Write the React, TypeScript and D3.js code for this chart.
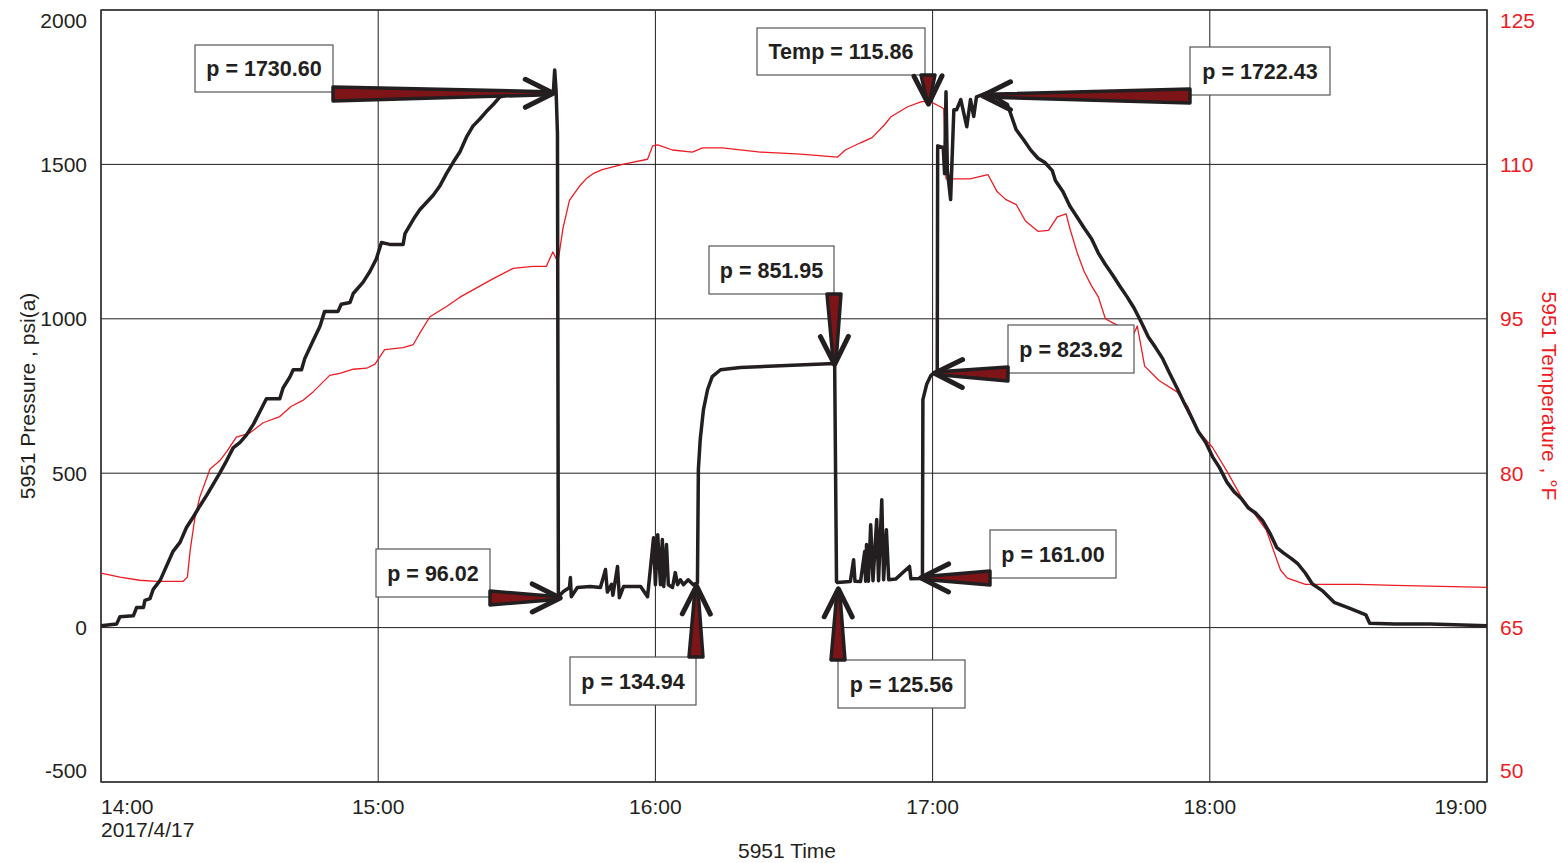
import React from "react";
import * as d3 from "d3";

// minutes after 14:00 on 2017/4/17, value
const pressure: [number, number][] = [
  [0, 6], [3.4, 12], [4.1, 35], [7, 38], [7.7, 65], [9.2, 65], [9.5, 88], [10.6, 94],
  [11.3, 124], [12.8, 153], [14.2, 200], [15.6, 247], [17.1, 276], [18.5, 324], [20, 359],
  [21.4, 394], [22.9, 429], [24.3, 465], [25.7, 500], [27.2, 541], [28.6, 582], [30.1, 600],
  [31.5, 624], [33, 659], [34.4, 700], [35.8, 741], [38.7, 741], [39.4, 776], [40.9, 812],
  [41.6, 835], [43.4, 835], [44.1, 871], [45.9, 929], [47.4, 976], [48.4, 1024], [51.3, 1024],
  [52, 1047], [53.9, 1053], [54.6, 1082], [56.7, 1118], [58.2, 1153], [59.6, 1194],
  [60.7, 1247], [62.5, 1241], [65.4, 1241], [65.8, 1276], [67.9, 1329], [69, 1353],
  [71.9, 1400], [73.3, 1429], [74.8, 1471], [76.2, 1506], [77.7, 1541], [79.1, 1588],
  [80.5, 1624], [82, 1647], [83.4, 1671], [84.9, 1694], [86.3, 1718], [87.7, 1724],
  [96.4, 1729], [97.9, 1731], [98.2, 1806], [98.5, 1740], [98.8, 1600], [99, 100],
  [100.1, 117], [101.4, 130], [101.6, 162], [101.8, 100], [103.1, 130], [105.9, 133],
  [108.1, 130], [109.2, 188], [109.6, 115], [110.5, 140], [110.8, 105], [111.8, 198],
  [112.2, 97], [113.1, 133], [116.8, 133], [118.3, 100], [118.9, 188], [119.6, 291],
  [120, 139], [120.5, 301], [121.1, 139], [121.5, 285], [121.8, 133], [122.4, 269],
  [122.8, 139], [123.7, 130], [124.3, 178], [124.8, 139], [125.4, 155], [126.1, 139],
  [127.1, 155], [128.2, 139], [129.1, 145], [129.3, 512], [129.7, 609], [130.4, 706],
  [131.3, 771], [132.3, 813], [134.1, 835], [138.4, 842], [147.1, 848], [158.8, 855],
  [159.2, 149], [159.4, 146], [162.2, 149], [162.9, 220], [163.2, 150], [164.4, 149],
  [165.3, 246], [165.5, 150], [165.7, 269], [166.1, 150], [166.6, 333], [167.1, 152],
  [167.9, 350], [168.3, 152], [169, 414], [169.4, 155], [170, 317], [170.5, 155],
  [172, 157], [175, 198], [175.3, 158], [177.4, 159], [177.8, 161], [177.9, 738],
  [178.7, 787], [179.6, 816], [180.4, 826], [181, 830], [181.1, 1560], [182.3, 1555],
  [182.6, 1470], [182.9, 1735], [183.2, 1480], [183.9, 1386], [184.6, 1677], [185.2, 1677],
  [186.1, 1710], [187.4, 1622], [188.2, 1710], [188.9, 1655], [189.5, 1719], [191.9, 1732],
  [196.2, 1694], [198.1, 1612], [199.7, 1580], [201.2, 1547], [202.8, 1520], [204.3, 1506],
  [205.9, 1480], [206.6, 1447], [208.2, 1412], [209.7, 1365], [211.3, 1329], [212.8, 1294],
  [214.4, 1259], [215.9, 1212], [217.4, 1176], [219, 1141], [220.5, 1106], [222.1, 1071],
  [223.6, 1035], [225.2, 988], [226.7, 941], [228.3, 906], [229.8, 871], [231.3, 824],
  [232.9, 776], [234.4, 729], [236, 682], [237.5, 635], [239.1, 600], [240.6, 553],
  [242.1, 518], [243.7, 471], [245.2, 441], [246.8, 418], [248.3, 388], [249.9, 371],
  [251.4, 347], [253, 306], [254.5, 259], [256, 241], [257.6, 224], [259.1, 206],
  [260.7, 176], [262.2, 141], [264.5, 118], [266.9, 82], [269.9, 65], [273.8, 41],
  [274.6, 14], [280, 12], [287.7, 12], [300, 6],
];

const temperature: [number, number][] = [
  [0, 70.3], [4.1, 69.9], [8.4, 69.6], [12, 69.5], [17.8, 69.5], [18.7, 69.9], [19.3, 72.5],
  [20.3, 75.6], [21.4, 77.7], [23.6, 80.4], [25.7, 81.2], [27.2, 82.1], [29.3, 83.5],
  [32.2, 83.9], [35.1, 84.9], [38.7, 85.5], [41.2, 86.5], [43.8, 87.1], [45.9, 87.9],
  [49.5, 89.5], [51.7, 89.7], [54.6, 90.1], [57.5, 90.2], [59.3, 90.6], [61.4, 92],
  [65.4, 92.2], [67.6, 92.5], [69, 93.6], [71.2, 95.2], [74.8, 96.2], [77.7, 97.1],
  [81.3, 98], [84.9, 98.9], [89.2, 99.9], [93.5, 100.1], [96.4, 100.1], [97.8, 101.5],
  [98.9, 100.5], [100, 103.8], [101.4, 106.5], [102.5, 107.2], [103.6, 107.9], [105, 108.6],
  [106.5, 109.1], [108.5, 109.5], [112.9, 110], [118.3, 110.5], [119.4, 111.8],
  [120.5, 111.9], [123.7, 111.4], [128, 111.2], [130.2, 111.6], [134.5, 111.6],
  [142.7, 111.2], [151.4, 111], [159.4, 110.7], [161.1, 111.4], [164.4, 112.1],
  [166.9, 112.6], [169.7, 113.9], [170.9, 114.6], [174.6, 115.6], [177.6, 116.1],
  [179.5, 116.1], [181.7, 115.6], [182.4, 115.4], [182.9, 108.6], [188.1, 108.6],
  [192, 109], [193.9, 107.4], [195.8, 106.6], [198.1, 106.1], [200.1, 104.5], [202.8, 103.5],
  [205.1, 103.6], [207, 104.9], [208.9, 105.2], [209.7, 103.8], [211.3, 101.4],
  [212.8, 99.6], [214.4, 98.2], [215.9, 97.1], [217.4, 95], [219, 94.6], [223.6, 93.6],
  [224.3, 94.3], [225.9, 90.4], [229, 89], [232.9, 87.9], [235.2, 86.5], [237.5, 84.1],
  [240.6, 82.5], [243.7, 80.2], [246.8, 77.7], [249.9, 75.9], [252.2, 74.5], [255.3, 70.6],
  [256.8, 69.8], [260.7, 69.2], [272.3, 69.2], [280, 69.1], [300, 68.9],
];

const pressureTicks = [-500, 0, 500, 1000, 1500, 2000];
const tempTicks = [50, 65, 80, 95, 110, 125];

// annotation callouts
const noteLabels = [
  "p = 1730.60", "p = 96.02", "p = 134.94", "p = 851.95", "p = 125.56",
  "Temp = 115.86", "p = 1722.43", "p = 823.92", "p = 161.00",
];
const noteMinutes = [97.9, 99.4, 128.9, 158.8, 159.6, 179.1, 190.8, 180.4, 177.4];
const noteValues = [1730.6, 96.02, 134.94, 851.95, 125.56, 115.86, 1722.43, 823.92, 161.0];
const noteSeries = ["p", "p", "p", "p", "p", "t", "p", "p", "p"];

// box [x, y, w, h] and arrow tail for each callout
const noteLayout = [
  { box: [195, 45, 138, 47], tail: [333, 94] },
  { box: [376, 549, 114, 48], tail: [490, 598] },
  { box: [570, 657, 126, 48], tail: [696, 657] },
  { box: [709, 246, 125, 48], tail: [834, 294] },
  { box: [838, 660, 127, 48], tail: [838, 660] },
  { box: [757, 28, 168, 47], tail: [928, 75] },
  { box: [1190, 47, 140, 48], tail: [1190, 96] },
  { box: [1008, 325, 126, 48], tail: [1008, 374] },
  { box: [990, 530, 126, 48], tail: [990, 578] },
];

const t0 = new Date(2017, 3, 17, 14, 0).getTime();
const toDate = (m: number) => new Date(t0 + m * 60000);

const W = 1562;
const H = 863;
const left = 101;
const right = 1487;
const top = 10;
const bottom = 782;
const dark = "#231f20";
const red = "#ed1c24";
const font = "Arial, 'Liberation Sans', sans-serif";
const fs = 21;

function Arrow({ tail, tip }: { tail: number[]; tip: number[] }) {
  const dx = tip[0] - tail[0];
  const dy = tip[1] - tail[1];
  const len = Math.hypot(dx, dy);
  const ux = dx / len;
  const uy = dy / len;
  const nx = -uy;
  const ny = ux;
  const shaft = [
    [tail[0] + nx * 7, tail[1] + ny * 7],
    [tip[0] - ux * 4 + nx * 1.5, tip[1] - uy * 4 + ny * 1.5],
    [tip[0] - ux * 4 - nx * 1.5, tip[1] - uy * 4 - ny * 1.5],
    [tail[0] - nx * 7, tail[1] - ny * 7],
  ];
  const hb = 28;
  const hs = 14;
  const head = `M${tip[0] - ux * hb + nx * hs},${tip[1] - uy * hb + ny * hs}L${tip[0]},${tip[1]}L${
    tip[0] - ux * hb - nx * hs
  },${tip[1] - uy * hb - ny * hs}`;
  return (
    <g>
      <polygon
        points={shaft.map((p) => p.join(",")).join(" ")}
        fill="#7d1518"
        stroke={dark}
        strokeWidth={3.5}
        strokeLinejoin="round"
      />
      <path d={head} fill="none" stroke={dark} strokeWidth={5} strokeLinecap="round" strokeLinejoin="round" />
    </g>
  );
}

export default function App() {
  const x = d3.scaleTime().domain([toDate(0), toDate(300)]).range([left, right]);
  const yP = d3.scaleLinear().domain([-500, 2000]).range([bottom, top]);
  const yT = d3.scaleLinear().domain([50, 125]).range([bottom, top]);
  const hours = x.ticks(d3.timeHour.every(1)!);
  const fmt = d3.timeFormat("%H:%M");

  const pLine = d3
    .line<[number, number]>()
    .x((d) => x(toDate(d[0])))
    .y((d) => yP(d[1]));
  const tLine = d3
    .line<[number, number]>()
    .x((d) => x(toDate(d[0])))
    .y((d) => yT(d[1]));

  const clampY = (y: number) => Math.max(top + 11, Math.min(bottom - 11, y));

  return (
    <div style={{ position: "absolute", left: 0, top: 0 }}>
      <svg width={W} height={H} style={{ display: "block" }} fontFamily={font}>
        <rect width={W} height={H} fill="#fff" />
        {/* grid */}
        {pressureTicks.map((v) => (
          <line key={"g" + v} x1={left} x2={right} y1={yP(v)} y2={yP(v)} stroke={dark} strokeWidth={1} />
        ))}
        {hours.map((h) => (
          <line key={"v" + h.getTime()} x1={x(h)} x2={x(h)} y1={top} y2={bottom} stroke={dark} strokeWidth={1} />
        ))}
        <rect x={left} y={top} width={right - left} height={bottom - top} fill="none" stroke="#333" strokeWidth={1.5} />

        {/* series */}
        <path d={tLine(temperature) || ""} fill="none" stroke={red} strokeWidth={1.3} strokeLinejoin="round" />
        <path d={pLine(pressure) || ""} fill="none" stroke={dark} strokeWidth={3.5} strokeLinejoin="round" />

        {/* left axis */}
        {pressureTicks.map((v) => (
          <text key={"l" + v} x={87} y={clampY(yP(v))} dy="0.35em" textAnchor="end" fontSize={fs} fill={dark}>
            {v}
          </text>
        ))}
        {/* right axis */}
        {tempTicks.map((v) => (
          <text key={"r" + v} x={1500} y={clampY(yT(v))} dy="0.35em" textAnchor="start" fontSize={fs} fill={red}>
            {v}
          </text>
        ))}
        {/* x axis */}
        {hours.map((h, i) => (
          <text
            key={"x" + h.getTime()}
            x={x(h)}
            y={814}
            textAnchor={i === 0 ? "start" : i === hours.length - 1 ? "end" : "middle"}
            fontSize={fs}
            fill={dark}
          >
            {fmt(h)}
          </text>
        ))}
        <text x={left} y={837} fontSize={fs} fill={dark}>
          2017/4/17
        </text>
        <text x={787} y={858} textAnchor="middle" fontSize={fs} fill={dark}>
          5951 Time
        </text>
        <text
          transform={`translate(35,${(top + bottom) / 2}) rotate(-90)`}
          textAnchor="middle"
          fontSize={fs}
          fill={dark}
        >
          5951 Pressure , psi(a)
        </text>
        <text
          transform={`translate(1542,${(top + bottom) / 2}) rotate(90)`}
          textAnchor="middle"
          fontSize={fs}
          fill={red}
        >
          5951 Temperature , °F
        </text>

        {/* callouts */}
        {noteLabels.map((label, i) => {
          const tip = [x(toDate(noteMinutes[i])), noteSeries[i] === "t" ? yT(noteValues[i]) : yP(noteValues[i])];
          const [bx, by, bw, bh] = noteLayout[i].box;
          return (
            <g key={label}>
              <rect x={bx} y={by} width={bw} height={bh} fill="#fff" stroke="#555" strokeWidth={1.2} />
              <text
                x={bx + bw / 2}
                y={by + bh / 2}
                dy="0.35em"
                textAnchor="middle"
                fontSize={21.5}
                fontWeight="bold"
                fill={dark}
              >
                {label}
              </text>
              <Arrow tail={noteLayout[i].tail} tip={tip} />
            </g>
          );
        })}
      </svg>
    </div>
  );
}
